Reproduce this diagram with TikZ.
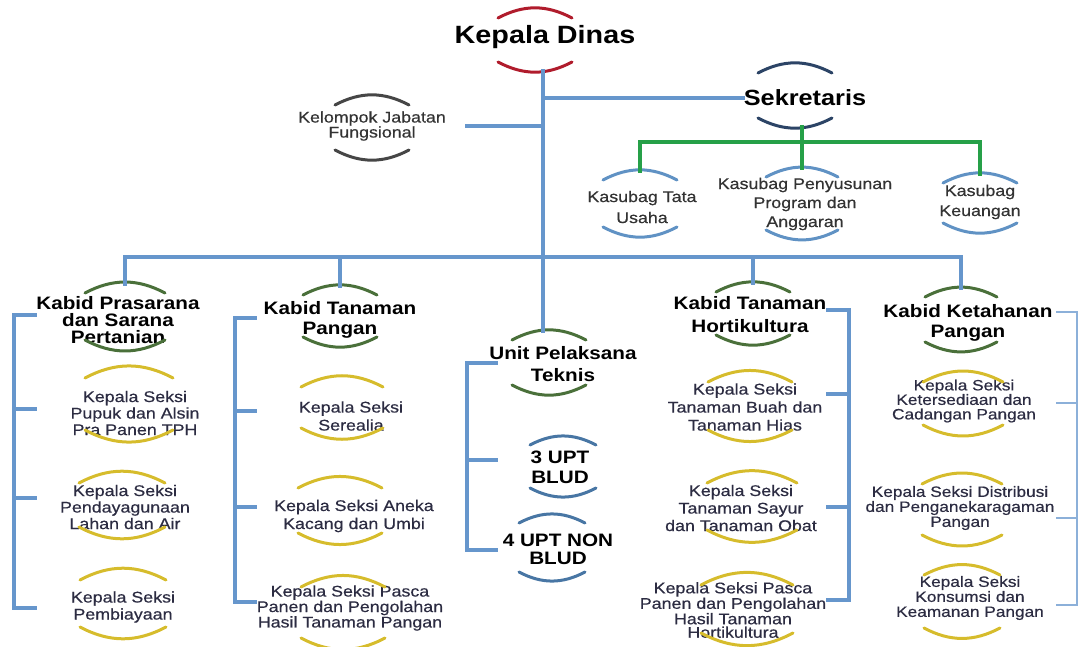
\documentclass[tikz,border=0pt]{standalone}
\usepackage{fontspec}
\setmainfont{Liberation Sans}[FakeStretch=1.15,UprightFeatures={FakeBold=0.5}]
\usetikzlibrary{calc}
\definecolor{dinas}{RGB}{176,28,44}
\definecolor{sekr}{RGB}{44,68,102}
\definecolor{fungs}{RGB}{70,70,70}
\definecolor{subag}{RGB}{96,146,196}
\definecolor{bidang}{RGB}{74,112,58}
\definecolor{seksi}{RGB}{214,188,44}
\definecolor{unit}{RGB}{72,118,164}
\definecolor{linkblue}{RGB}{102,150,204}
\definecolor{linkgreen}{RGB}{38,160,72}
\definecolor{ink}{RGB}{44,44,66}
% two arcs round a node: node, colour, x offset, half width, top, bottom
\newcommand{\capsarcs}[6]{
  \draw[arcline,#2] ($(#1.center)+(#3-#4,#5)$) to[bend left=28] ($(#1.center)+(#3+#4,#5)$);
  \draw[arcline,#2] ($(#1.center)+(#3-#4,-#6)$) to[bend right=28] ($(#1.center)+(#3+#4,-#6)$);
  \coordinate (#1-top) at ($(#1.center)+(#3,#5+9)$);
  \coordinate (#1-bot) at ($(#1.center)+(#3,-#6-9)$);
}
% ticks of a bracket: [style] spine, tick length, node/shift list
\newcommand{\drawbracket}[4][]{
  \foreach \n/\dy [count=\idx] in {#4}{
    \coordinate (#2-\idx) at ($(#2 |- \n)+(0,\dy)$);
    \draw[conn,#1] (#2-\idx) -- ++(#3,0);
  }
}
\tikzset{
  arcline/.style={line width=3pt, line cap=round},
  conn/.style={line width=4pt, linkblue, line cap=rect},
  gconn/.style={line width=4pt, linkgreen, line cap=rect},
  headbox/.style={align=center, inner sep=1pt, font=\fontsize{18}{20}\selectfont\bfseries},
  seksibox/.style={align=center, inner sep=1pt, text=ink, font=\fontsize{15.5}{17}\selectfont},
  subagbox/.style={align=center, inner sep=1pt, text=black!80},
}

\begin{document}
\begin{tikzpicture}[x=1pt,y=1pt]
\useasboundingbox (0,0) rectangle (1080,-646);
% top level
\node[inner sep=1pt,font=\fontsize{25}{28}\selectfont\bfseries] (kd) at (545,-37) {Kepala Dinas};
\node[inner sep=1pt,font=\fontsize{22}{24}\selectfont\bfseries] (sek) at (805,-98) {Sekretaris};
\node[seksibox,text=black!80,font=\fontsize{15.5}{15}\selectfont] (kjf) at (372,-126) {Kelompok Jabatan\\Fungsional};
\node[subagbox,font=\fontsize{15.5}{21}\selectfont] (ks1) at (642,-207) {Kasubag Tata\\Usaha};
\node[subagbox,font=\fontsize{15.5}{19}\selectfont] (ks2) at (805,-204) {Kasubag Penyusunan\\Program dan\\Anggaran};
\node[subagbox,font=\fontsize{15.5}{20}\selectfont] (ks3) at (980,-202) {Kasubag\\Keuangan};
% bidang
\node[headbox,font=\fontsize{18}{17}\selectfont\bfseries] (kb1) at (118,-320) {Kabid Prasarana\\dan Sarana\\Pertanian};
\node[headbox] (kb2) at (340,-320) {Kabid Tanaman\\Pangan};
\node[headbox,font=\fontsize{18}{22}\selectfont\bfseries] (upt) at (563,-364) {Unit Pelaksana\\Teknis};
\node[headbox,font=\fontsize{18}{23}\selectfont\bfseries] (kb4) at (750,-315) {Kabid Tanaman\\Hortikultura};
\node[headbox] (kb5) at (968,-323) {Kabid Ketahanan\\Pangan};
\node[headbox] (u1) at (560,-467) {3 UPT\\BLUD};
\node[headbox,font=\fontsize{18}{18}\selectfont\bfseries] (u2) at (558,-549) {4 UPT NON\\BLUD};
% seksi
\node[seksibox,font=\fontsize{15.5}{16.5}\selectfont] (s11) at (135,-413) {Kepala Seksi\\Pupuk dan Alsin\\Pra Panen TPH};
\node[seksibox,font=\fontsize{15.5}{16.5}\selectfont] (s12) at (125,-507) {Kepala Seksi\\Pendayagunaan\\Lahan dan Air};
\node[seksibox] (s13) at (123,-607) {Kepala Seksi\\Pembiayaan};
\node[seksibox,font=\fontsize{15.5}{18}\selectfont] (s21) at (351,-416) {Kepala Seksi\\Serealia};
\node[seksibox,font=\fontsize{15.5}{18}\selectfont] (s22) at (354,-516) {Kepala Seksi Aneka\\Kacang dan Umbi};
\node[seksibox,font=\fontsize{15.5}{14}\selectfont] (s23) at (350,-608) {Kepala Seksi Pasca\\Panen dan Pengolahan\\Hasil Tanaman Pangan};
\node[seksibox,font=\fontsize{15.5}{18}\selectfont] (s41) at (745,-407) {Kepala Seksi\\Tanaman Buah dan\\Tanaman Hias};
\node[seksibox,font=\fontsize{15.5}{17.5}\selectfont] (s42) at (741,-508) {Kepala Seksi\\Tanaman Sayur\\dan Tanaman Obat};
\node[seksibox,font=\fontsize{15.5}{13.5}\selectfont] (s43) at (733,-610) {Kepala Seksi Pasca\\Panen dan Pengolahan\\Hasil Tanaman\\Hortikultura};
\node[seksibox,font=\fontsize{15}{14.5}\selectfont] (s51) at (964,-401) {Kepala Seksi\\Ketersediaan dan\\Cadangan Pangan};
\node[seksibox,font=\fontsize{15}{15}\selectfont] (s52) at (960,-508) {Kepala Seksi Distribusi\\dan Penganekaragaman\\Pangan};
\node[seksibox,font=\fontsize{15}{15}\selectfont] (s53) at (970,-598) {Kepala Seksi\\Konsumsi dan\\Keamanan Pangan};
% arcs
\capsarcs{kd}{dinas}{-10}{37}{19}{25}
\capsarcs{sek}{sekr}{-10}{37}{25}{20}
\capsarcs{kjf}{fungs}{0}{37}{21}{24}
\capsarcs{ks1}{subag}{-2}{37}{27}{20}
\capsarcs{ks2}{subag}{-3}{36}{27}{26}
\capsarcs{ks3}{subag}{0}{37}{19}{21}
\capsarcs{kb1}{bidang}{7}{40}{27}{20}
\capsarcs{kb2}{bidang}{0}{37}{25}{17}
\capsarcs{upt}{bidang}{-14}{37}{24}{21}
\capsarcs{kb4}{bidang}{3}{37}{23}{20}
\capsarcs{kb5}{bidang}{-7}{36}{26}{19}
\capsarcs{u1}{unit}{3}{33}{22}{21}
\capsarcs{u2}{unit}{-6}{33}{26}{23}
\capsarcs{s11}{seksi}{-6}{44}{35}{17}
\capsarcs{s12}{seksi}{-3}{43}{24}{20}
\capsarcs{s13}{seksi}{0}{43}{27}{20}
\capsarcs{s21}{seksi}{-9}{41}{29}{12}
\capsarcs{s22}{seksi}{-14}{42}{28}{17}
\capsarcs{s23}{seksi}{-7}{42}{21}{30}
\capsarcs{s41}{seksi}{5}{42}{25}{23}
\capsarcs{s42}{seksi}{11}{45}{25}{22}
\capsarcs{s43}{seksi}{14}{46}{25}{23}
\capsarcs{s51}{seksi}{-1}{40}{19}{24}
\capsarcs{s52}{seksi}{2}{40}{24}{27}
\capsarcs{s53}{seksi}{-8}{38}{23}{30}
% connectors
\coordinate (trunk) at (543,0);
\coordinate (bus) at (0,-257);
\coordinate (gbus) at (0,-142);
\draw[conn] (trunk |- kd-bot) -- (trunk |- upt-top);
\draw[conn] (trunk |- sek) -- (sek.west);
\draw[conn] (trunk |- kjf) -- ([xshift=20]kjf.east);
\draw[conn] (kb1-top |- bus) -- (kb5-top |- bus);
\foreach \n in {kb1,kb2,kb4,kb5} \draw[conn] (\n-top |- bus) -- (\n-top);
\draw[gconn] (ks1-top |- gbus) -- (ks3-top |- gbus);
\draw[gconn] (ks2-top |- sek-bot) -- (ks2-top);
\foreach \n in {ks1,ks3} \draw[gconn] (\n-top |- gbus) -- (\n-top);
% brackets
\coordinate (sp1) at (14,0);
\coordinate (sp2) at (235,0);
\coordinate (sp3) at (467,0);
\coordinate (sp4) at (849,0);
\coordinate (sp5) at (1077,0);
\drawbracket{sp1}{21}{kb1/5,s11/4,s12/9,s13/-1}
\draw[conn] (sp1-1) -- (sp1-4);
\drawbracket{sp2}{20}{kb2/2,s21/5,s22/9,s23/6}
\draw[conn] (sp2-1) -- (sp2-4);
\drawbracket{sp3}{29}{upt/1,u1/7,u2/-1}
\draw[conn] (sp3-1) -- (sp3-3);
\drawbracket{sp4}{-21}{kb4/5,s41/13,s42/1,s43/10}
\draw[conn] (sp4-1) -- (sp4-4);
\drawbracket[line width=2.5pt,linkblue!75]{sp5}{-20}{kb5/11,s51/-2,s52/-10,s53/-7}
\draw[conn,line width=2.5pt,linkblue!75] (sp5-1) -- (sp5-4);
\end{tikzpicture}
\end{document}
